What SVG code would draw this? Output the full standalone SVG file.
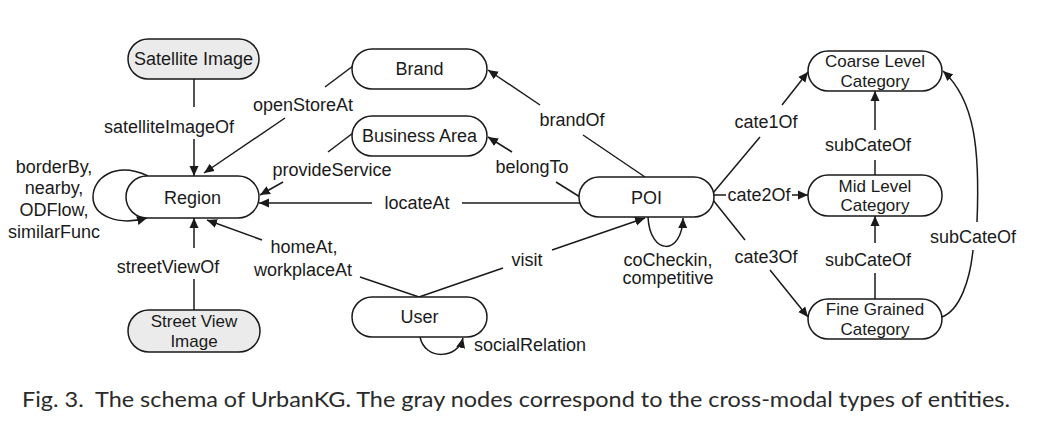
<svg xmlns="http://www.w3.org/2000/svg" width="1041" height="435" viewBox="0 0 1041 435">
<defs>
<marker id="arr" viewBox="0 0 10 10" refX="10" refY="5" markerWidth="10" markerHeight="10" markerUnits="userSpaceOnUse" orient="auto"><path d="M0,0.5 L10,5 L0,9.5 z" fill="#1a1a1a"/></marker>
<style>
.node rect{fill:#ffffff;stroke:#1a1a1a;stroke-width:1.5}
.node.gray rect{fill:#ebebeb}
text{font-family:"Liberation Sans",Arial,sans-serif;font-size:18px;fill:#1a1a1a;text-anchor:middle}
text.two{font-size:17px}
.edges line,.edges path{stroke:#1a1a1a;stroke-width:1.5;fill:none}
.a{marker-end:url(#arr)}
.cap{font-family:Lato,"Noto Sans",sans-serif;font-size:22px;text-anchor:start;fill:#2a2a2a;white-space:pre}
</style>
</defs>
<rect width="1041" height="435" fill="#ffffff"/>
<g class="edges">
<line x1="194" y1="79" x2="194" y2="107"/>
<line class="a" x1="194" y1="139" x2="194" y2="176"/>
<line x1="353" y1="66" x2="325" y2="87"/>
<line class="a" x1="285" y1="118" x2="204" y2="173"/>
<line x1="353" y1="133" x2="328" y2="152"/>
<line class="a" x1="283" y1="182" x2="260" y2="195"/>
<line x1="580" y1="203" x2="462" y2="203"/>
<line class="a" x1="372" y1="203" x2="259" y2="203"/>
<line x1="419" y1="297" x2="360" y2="277"/>
<line class="a" x1="262" y1="240" x2="207" y2="220"/>
<line x1="194" y1="310" x2="194" y2="279"/>
<line class="a" x1="194" y1="248" x2="194" y2="218"/>
<path class="a" d="M148,176 C115,161 93,178 93,197 C93,216 118,226 147,218"/>
<line x1="645" y1="177" x2="583" y2="135"/>
<line class="a" x1="540" y1="105" x2="488" y2="70"/>
<line x1="580" y1="197" x2="556" y2="182"/>
<line class="a" x1="512" y1="152" x2="488" y2="137"/>
<line x1="419" y1="297" x2="503" y2="268"/>
<line class="a" x1="552" y1="250" x2="645" y2="218"/>
<path class="a" d="M648,217 C650,256 682,256 683,218"/>
<path class="a" d="M420,337 C425,361 458,359 463,338"/>
<line x1="713" y1="193" x2="760" y2="137"/>
<line class="a" x1="782" y1="105" x2="808" y2="72"/>
<line x1="714" y1="195" x2="726" y2="195"/>
<line class="a" x1="792" y1="195" x2="808" y2="195"/>
<line x1="713" y1="200" x2="745" y2="240"/>
<line class="a" x1="770" y1="270" x2="808" y2="317"/>
<line x1="875" y1="175" x2="875" y2="160"/>
<line class="a" x1="875" y1="130" x2="875" y2="91"/>
<line x1="875" y1="299" x2="875" y2="273"/>
<line class="a" x1="875" y1="243" x2="875" y2="216"/>
<path d="M942,317 C960,310 970,280 973,250"/>
<path class="a" d="M977,222 C980,150 975,100 943,71"/>
</g>
<g id="edge-labels">
<text x="169" y="133">satelliteImageOf</text>
<text x="303" y="111">openStoreAt</text>
<text x="332" y="176">provideService</text>
<text x="417" y="209">locateAt</text>
<text x="304" y="253">homeAt,</text>
<text x="303" y="276">workplaceAt</text>
<text x="168" y="273">streetViewOf</text>
<text x="54" y="173">borderBy,</text>
<text x="54" y="194">nearby,</text>
<text x="54" y="216">ODFlow,</text>
<text x="54" y="238">similarFunc</text>
<text x="572" y="126">brandOf</text>
<text x="532" y="173">belongTo</text>
<text x="527" y="266">visit</text>
<text x="668" y="266">coCheckin,</text>
<text x="668" y="284">competitive</text>
<text x="530" y="351">socialRelation</text>
<text x="766" y="128">cate1Of</text>
<text x="759" y="201">cate2Of</text>
<text x="766" y="263">cate3Of</text>
<text x="868" y="151">subCateOf</text>
<text x="868" y="266">subCateOf</text>
<text x="973" y="243">subCateOf</text>
</g>
<g id="satellite" class="node gray"><rect x="128" y="39" width="131" height="40" rx="20"/><text x="193.5" y="65">Satellite Image</text></g>
<g id="region" class="node"><rect x="126" y="176" width="133" height="42" rx="21"/><text x="192.5" y="204">Region</text></g>
<g id="streetview" class="node gray"><rect x="128" y="310" width="132" height="42" rx="21"/><text class="two" x="194" y="327">Street View<tspan x="194" dy="19.5">Image</tspan></text></g>
<g id="brand" class="node"><rect x="352" y="49" width="135" height="40" rx="20"/><text x="419.5" y="75">Brand</text></g>
<g id="businessarea" class="node"><rect x="352" y="116" width="135" height="40" rx="20"/><text x="419.5" y="142">Business Area</text></g>
<g id="poi" class="node"><rect x="579" y="177" width="135" height="40" rx="20"/><text x="646.5" y="204">POI</text></g>
<g id="user" class="node"><rect x="352" y="297" width="135" height="40" rx="20"/><text x="419.5" y="323">User</text></g>
<g id="coarse" class="node"><rect x="808" y="51" width="134" height="40" rx="20"/><text class="two" x="875" y="67">Coarse Level<tspan x="875" dy="19.5">Category</tspan></text></g>
<g id="mid" class="node"><rect x="808" y="175" width="134" height="41" rx="20"/><text class="two" x="875" y="191.5">Mid Level<tspan x="875" dy="19.5">Category</tspan></text></g>
<g id="fine" class="node"><rect x="808" y="299" width="134" height="40" rx="20"/><text class="two" x="875" y="315">Fine Grained<tspan x="875" dy="19.5">Category</tspan></text></g>
<text class="cap" x="22" y="407" textLength="988" lengthAdjust="spacingAndGlyphs">Fig. 3.  The schema of UrbanKG. The gray nodes correspond to the cross-modal types of entities.</text>
</svg>
